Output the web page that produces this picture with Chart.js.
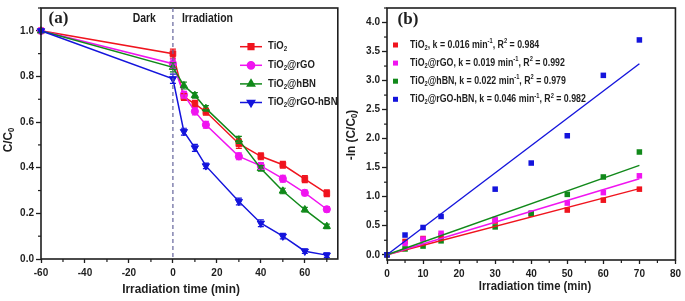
<!DOCTYPE html>
<html>
<head>
<meta charset="utf-8">
<script src="https://cdn.jsdelivr.net/npm/chart.js@4.4.1/dist/chart.umd.min.js"></script>
<style>
    html, body { margin: 0; padding: 0; background: #fff; }
    #wrap { position: relative; width: 685px; height: 301px; overflow: hidden; }
    #boxA { position: absolute; left: 0; top: 0; width: 343px; height: 301px; }
    #boxB { position: absolute; left: 343px; top: 0; width: 342px; height: 301px; }
</style>
</head>
<body>
<div id="wrap">
    <div id="boxA"><canvas id="chartA" width="343" height="301"></canvas></div>
    <div id="boxB"><canvas id="chartB" width="342" height="301"></canvas></div>
</div>
<script>
// ---- данные панели (a): C/C0 от времени ----
const timeA = [-60, 0, 5, 10, 15, 30, 40, 50, 60, 70];
const ratioTiO2   = [1.0, 0.90, 0.71, 0.68, 0.645, 0.505, 0.45, 0.413, 0.35, 0.288];
const ratioRGO    = [1.0, 0.856, 0.72, 0.647, 0.588, 0.45, 0.408, 0.352, 0.29, 0.218];
const ratioHBN    = [1.0, 0.84, 0.76, 0.717, 0.66, 0.522, 0.397, 0.298, 0.216, 0.143];
const ratioRGOhBN = [1.0, 0.79, 0.558, 0.487, 0.408, 0.252, 0.157, 0.10, 0.034, 0.017];
const errTiO2   = [0, 0.02, 0.015, 0.015, 0.015, 0.02, 0.015, 0.015, 0.015, 0.015];
const errRGO    = [0, 0.02, 0.015, 0.015, 0.015, 0.015, 0.015, 0.015, 0.012, 0.012];
const errHBN    = [0, 0.02, 0.015, 0.012, 0.012, 0.015, 0.012, 0.012, 0.01, 0.01];
const errRGOhBN = [0, 0.02, 0.015, 0.015, 0.012, 0.015, 0.015, 0.012, 0.01, 0.01];

// ---- данные панели (b): -ln(C/C0) и линейные аппроксимации ----
const timeB = [0, 5, 10, 15, 30, 40, 50, 60, 70];
const lnTiO2   = [0, 0.23, 0.28, 0.33, 0.58, 0.70, 0.77, 0.94, 1.13];
const lnRGO    = [0, 0.19, 0.27, 0.37, 0.61, 0.72, 0.89, 1.07, 1.36];
const lnHBN    = [0, 0.10, 0.15, 0.24, 0.48, 0.71, 1.04, 1.34, 1.77];
const lnRGOhBN = [0, 0.34, 0.47, 0.66, 1.13, 1.58, 2.05, 3.09, 3.70];
const fitX = [0, 70];
const fitTiO2   = [0, 1.14];
const fitRGO    = [0, 1.31];
const fitHBN    = [0, 1.54];
const fitRGOhBN = [0, 3.29];
const rateK    = ['0.016', '0.019', '0.022', '0.046'];
const rSquared = ['0.984', '0.992', '0.979', '0.982'];

// подписи серий (с индексами)
const seriesNames = ['TiO₂', 'TiO₂@rGO', 'TiO₂@hBN', 'TiO₂@rGO-hBN'];
const seriesParts = [
    ['TiO', {sub: '2'}],
    ['TiO', {sub: '2'}, '@rGO'],
    ['TiO', {sub: '2'}, '@hBN'],
    ['TiO', {sub: '2'}, '@rGO-hBN']
];

// деления осей
const xTicksA = [-60, -40, -20, 0, 20, 40, 60];
const yTicksA = [0, 0.2, 0.4, 0.6, 0.8, 1.0];
const xTicksB = [0, 10, 20, 30, 40, 50, 60, 70, 80];
const yTicksB = [0, 0.5, 1.0, 1.5, 2.0, 2.5, 3.0, 3.5, 4.0];

const colors = ['#f0141e', '#f014f0', '#11891a', '#1414dc'];
const FONT = '"Liberation Sans", Arial, sans-serif';
const INK = '#1e1e1e';

// ---- вспомогательные функции для текста ----
function partsWidth(ctx, parts, size) {
    let w = 0;
    parts.forEach(p => {
        const small = typeof p === 'object';
        const t = small ? (p.sub || p.sup) : p;
        ctx.font = 'bold ' + (small ? size * 0.65 : size) + 'px ' + FONT;
        w += ctx.measureText(t).width;
    });
    return w;
}

function drawRich(ctx, parts, x, y, size, sx, align, rotate) {
    ctx.save();
    ctx.translate(x, y);
    if (rotate) ctx.rotate(-Math.PI / 2);
    ctx.scale(sx, 1);
    ctx.fillStyle = INK;
    ctx.textAlign = 'left';
    ctx.textBaseline = 'middle';
    const w = partsWidth(ctx, parts, size);
    let cx = align === 'center' ? -w / 2 : 0;
    parts.forEach(p => {
        const small = typeof p === 'object';
        const t = small ? (p.sub || p.sup) : p;
        const dy = !small ? 0 : (p.sub ? size * 0.3 : -size * 0.35);
        ctx.font = 'bold ' + (small ? size * 0.65 : size) + 'px ' + FONT;
        ctx.fillText(t, cx, dy);
        cx += ctx.measureText(t).width;
    });
    ctx.restore();
}

// ---- общие плагины: рамка, мелкие деления, планки погрешностей ----
const framePlugin = {
    id: 'frame',
    afterDraw(chart) {
        const a = chart.chartArea, ctx = chart.ctx;
        ctx.save();
        ctx.strokeStyle = INK;
        ctx.lineWidth = 1.6;
        ctx.strokeRect(a.left, a.top, a.right - a.left, a.bottom - a.top);
        ctx.restore();
    }
};

function minorTicksPlugin(xStep, yStep) {
    return {
        id: 'minorTicks',
        afterDraw(chart) {
            const ctx = chart.ctx;
            ctx.save();
            ctx.strokeStyle = INK;
            ctx.lineWidth = 1.2;
            [['x', xStep], ['y', yStep]].forEach(([id, step]) => {
                const s = chart.scales[id];
                const majors = s.ticks.map(t => t.value);
                for (let v = majors[0] - step; v <= s.max + 1e-9; v += step) {
                    if (v < s.min - 1e-9) continue;
                    if (majors.some(m => Math.abs(m - v) < 1e-9)) continue;
                    const p = s.getPixelForValue(v);
                    ctx.beginPath();
                    if (id === 'x') { ctx.moveTo(p, s.top); ctx.lineTo(p, s.top + 3); }
                    else { ctx.moveTo(s.right, p); ctx.lineTo(s.right - 3, p); }
                    ctx.stroke();
                }
            });
            ctx.restore();
        }
    };
}

const errorBarPlugin = {
    id: 'errorBars',
    afterDatasetsDraw(chart) {
        const ctx = chart.ctx, ys = chart.scales.y;
        ctx.save();
        chart.data.datasets.forEach((ds, i) => {
            if (!ds.errors) return;
            const meta = chart.getDatasetMeta(i);
            ctx.strokeStyle = ds.borderColor;
            ctx.lineWidth = 1.2;
            meta.data.forEach((pt, j) => {
                const e = ds.errors[j];
                if (!e) return;
                const top = ys.getPixelForValue(ds.data[j].y + e);
                const bot = ys.getPixelForValue(ds.data[j].y - e);
                ctx.beginPath();
                ctx.moveTo(pt.x, top); ctx.lineTo(pt.x, bot);
                ctx.moveTo(pt.x - 3, top); ctx.lineTo(pt.x + 3, top);
                ctx.moveTo(pt.x - 3, bot); ctx.lineTo(pt.x + 3, bot);
                ctx.stroke();
            });
        });
        ctx.restore();
    }
};

function axisConf(tickValues, min, max, fixed, isY, size) {
    return {
        type: 'linear',
        min: min,
        max: max,
        afterBuildTicks: s => { s.ticks = tickValues.map(v => ({value: v})); },
        afterFit: s => { if (isY) s.width = size; else s.height = size; },
        grid: { drawOnChartArea: false, drawTicks: true, tickLength: isY ? 5 : 4,
                tickColor: INK, tickWidth: 1.3 },
        border: { display: false },
        ticks: {
            color: INK,
            padding: isY ? 2 : 4,
            font: { family: FONT, size: 10, weight: 'bold' },
            callback: v => fixed ? Number(v).toFixed(1) : String(v)
        }
    };
}

// ---- панель (a) ----
const seriesA = [ratioTiO2, ratioRGO, ratioHBN, ratioRGOhBN];
const errorsA = [errTiO2, errRGO, errHBN, errRGOhBN];
const markers = ['rect', 'circle', 'triangle', 'triangle'];
const markerRot = [0, 0, 0, 180];
const markerSize = [4, 3.6, 4.2, 4.2];

const decorA = {
    id: 'decorA',
    afterDraw(chart) {
        const ctx = chart.ctx, a = chart.chartArea;
        const x0 = chart.scales.x.getPixelForValue(0);
        ctx.save();
        // пунктир Dark / Irradiation
        ctx.strokeStyle = '#64649c';
        ctx.lineWidth = 1.2;
        ctx.setLineDash([4, 3]);
        ctx.beginPath();
        ctx.moveTo(x0, a.top); ctx.lineTo(x0, a.bottom);
        ctx.stroke();
        ctx.setLineDash([]);
        ctx.restore();

        ctx.save();
        ctx.fillStyle = INK;
        ctx.textBaseline = 'middle';
        ctx.font = 'bold 12px ' + FONT;
        ctx.translate(x0 - 17, a.top + 11); ctx.scale(0.87, 1);
        ctx.textAlign = 'right';
        ctx.fillText('Dark', 0, 0);
        ctx.restore();
        ctx.save();
        ctx.fillStyle = INK;
        ctx.textBaseline = 'middle';
        ctx.font = 'bold 12px ' + FONT;
        ctx.translate(x0 + 9, a.top + 11); ctx.scale(0.87, 1);
        ctx.textAlign = 'left';
        ctx.fillText('Irradiation', 0, 0);
        ctx.restore();

        // (a)
        ctx.save();
        ctx.fillStyle = INK;
        ctx.font = 'bold 17px "Liberation Serif", "Times New Roman", serif';
        ctx.textAlign = 'center';
        ctx.textBaseline = 'middle';
        ctx.fillText('(a)', a.left + 17.5, a.top + 11);
        ctx.restore();

        // легенда
        chart.data.datasets.forEach((ds, i) => {
            const y = a.top + 38.7 + i * 18.6;
            const lx = a.left + 199;
            ctx.save();
            ctx.strokeStyle = ds.borderColor;
            ctx.lineWidth = 1.5;
            ctx.beginPath();
            ctx.moveTo(lx, y); ctx.lineTo(lx + 22, y);
            ctx.stroke();
            ctx.fillStyle = ds.backgroundColor;
            Chart.helpers.drawPoint(ctx, {
                pointStyle: ds.pointStyle, rotation: ds.pointRotation,
                radius: ds.pointRadius, borderWidth: 1
            }, lx + 11, y);
            ctx.fill();
            ctx.restore();
            drawRich(ctx, seriesParts[i], lx + 28, y, 10, 0.95, 'left');
        });

        // подписи осей
        drawRich(ctx, ['C/C', {sub: '0'}], 8, 140, 13, 0.91, 'center', true);
        drawRich(ctx, ['Irradiation time (min)'], 181, 289, 13, 0.91, 'center');
    }
};

new Chart(document.getElementById('chartA'), {
    type: 'scatter',
    data: {
        datasets: seriesA.map((vals, i) => ({
            label: seriesNames[i],
            data: vals.map((v, j) => ({x: timeA[j], y: v})),
            errors: errorsA[i],
            showLine: true,
            borderColor: colors[i],
            backgroundColor: colors[i],
            borderWidth: 1.5,
            pointStyle: markers[i],
            pointRotation: markerRot[i],
            pointRadius: markerSize[i],
            pointBorderWidth: 1,
            order: 3 - i,
            clip: false
        }))
    },
    options: {
        responsive: false,
        animation: false,
        devicePixelRatio: 1,
        layout: { padding: { left: 0, top: 4, right: 2, bottom: 0 } },
        plugins: { legend: { display: false }, tooltip: { enabled: false } },
        scales: {
            x: axisConf(xTicksA, -60, 75, false, false, 42),
            y: axisConf(yTicksA, 0, 1.1, true, true, 41)
        }
    },
    plugins: [errorBarPlugin, framePlugin, minorTicksPlugin(10, 0.1), decorA]
});

// ---- панель (b) ----
const seriesB = [lnTiO2, lnRGO, lnHBN, lnRGOhBN];
const fitsB = [fitTiO2, fitRGO, fitHBN, fitRGOhBN];

const decorB = {
    id: 'decorB',
    afterDraw(chart) {
        const ctx = chart.ctx, a = chart.chartArea;
        ctx.save();
        ctx.fillStyle = INK;
        ctx.font = 'bold 17px "Liberation Serif", "Times New Roman", serif';
        ctx.textAlign = 'center';
        ctx.textBaseline = 'middle';
        ctx.fillText('(b)', a.left + 21, a.top + 12);
        ctx.restore();

        seriesParts.forEach((name, i) => {
            const y = a.top + 37 + i * 18.1;
            ctx.save();
            ctx.fillStyle = colors[i];
            ctx.fillRect(a.left + 6, y - 2.5, 5, 5);
            ctx.restore();
            const parts = name.concat([', k = ' + rateK[i] + ' min', {sup: '-1'},
                ', R', {sup: '2'}, ' = ' + rSquared[i]]);
            drawRich(ctx, parts, a.left + 23, y, 10, 0.88, 'left');
        });

        drawRich(ctx, ['-ln (C/C', {sub: '0'}, ')'], 8, 135, 13, 0.91, 'center', true);
        drawRich(ctx, ['Irradiation time (min)'], 192, 286, 13, 0.87, 'center');
    }
};

const datasetsB = seriesB.map((vals, i) => ({
    label: seriesNames[i],
    data: vals.map((v, j) => ({x: timeB[j], y: v})),
    showLine: false,
    backgroundColor: colors[i],
    borderColor: colors[i],
    pointStyle: 'rect',
    pointRadius: 3.9,
    pointBorderWidth: 0,
    order: 10 - i,
    clip: false
})).concat(fitsB.map((vals, i) => ({
    label: seriesNames[i] + ' fit',
    data: vals.map((v, j) => ({x: fitX[j], y: v})),
    showLine: true,
    borderColor: colors[i],
    borderWidth: 1.4,
    pointRadius: 0,
    order: 5 - i,
    clip: false
})));

new Chart(document.getElementById('chartB'), {
    type: 'scatter',
    data: { datasets: datasetsB },
    options: {
        responsive: false,
        animation: false,
        devicePixelRatio: 1,
        layout: { padding: { left: 0, top: 3, right: 7, bottom: 0 } },
        plugins: { legend: { display: false }, tooltip: { enabled: false } },
        scales: {
            x: axisConf(xTicksB, 0, 80, false, false, 41),
            y: axisConf(yTicksB, -0.09, 4.25, true, true, 44)
        }
    },
    plugins: [framePlugin, minorTicksPlugin(5, 0.25), decorB]
});
</script>
</body>
</html>
